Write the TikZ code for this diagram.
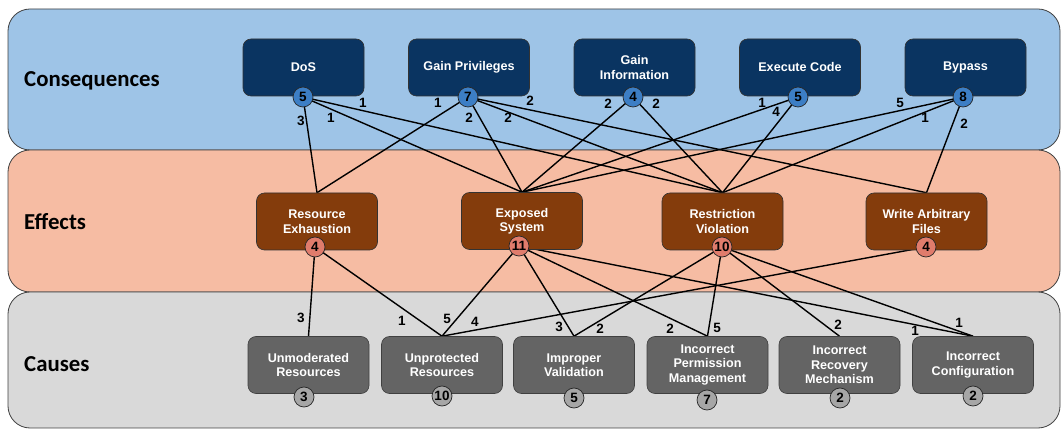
\documentclass[tikz,border=0pt]{standalone}
\usepackage{fontspec}
\setmainfont{Liberation Sans}
\newfontfamily\bandfont{Carlito}

\definecolor{consband}{HTML}{9EC4E7}
\definecolor{effband}{HTML}{F6BCA3}
\definecolor{causeband}{HTML}{D9D9D9}
\definecolor{consfill}{HTML}{0A3461}
\definecolor{efffill}{HTML}{843C0C}
\definecolor{causefill}{HTML}{646464}
\definecolor{consdot}{HTML}{3C7EC5}
\definecolor{effdot}{HTML}{E07C6C}
\definecolor{causedot}{HTML}{A6A6A6}

\pgfdeclarelayer{bands}
\pgfdeclarelayer{links}
\pgfsetlayers{bands,links,main}

\tikzset{
  band/.style={draw=black!75, line width=0.8pt, rounded corners=22pt},
  bandlabel/.style={font=\bandfont\bfseries\fontsize{22.8}{26}\selectfont, anchor=west, inner sep=0pt},
  box/.style={draw=black!80, line width=0.6pt, rounded corners=8pt,
    minimum width=121pt, minimum height=57pt, align=center, text=white,
    font=\bfseries\fontsize{12.6}{14.5}\selectfont, inner sep=2pt},
  consbox/.style={box, fill=consfill},
  effbox/.style={box, fill=efffill},
  causebox/.style={box, fill=causefill, draw=black!75},
  badge/.style={circle, draw=black!85, line width=0.7pt, minimum size=20pt,
    inner sep=0pt, font=\bfseries\fontsize{13.5}{13.5}\selectfont},
  consbadge/.style={badge, fill=consdot},
  effbadge/.style={badge, fill=effdot},
  causebadge/.style={badge, fill=causedot},
  link/.style={line width=1.4pt, black},
  wt/.style={font=\bfseries\fontsize{13.5}{13.5}\selectfont, inner sep=0pt}
}

\begin{document}
\begin{tikzpicture}[x=1pt,y=-1pt]
\useasboundingbox (0,0) rectangle (1061,430);

% layer bands
\begin{pgfonlayer}{bands}
  \draw[band, fill=consband] (8,9) rectangle (1060,150);
  \draw[band, fill=effband] (8,150) rectangle (1060,292);
  \draw[band, fill=causeband] (8,292) rectangle (1060,428);
\end{pgfonlayer}
\node[bandlabel] (lcons) at (24,81) {Consequences};
\node[bandlabel] (leff) at (24,222) {Effects};
\node[bandlabel] (lcause) at (24,364) {Causes};

% consequences
\node[consbox] (dos) at (303.5,67.5) {DoS};
\node[consbox] (gp)  at (469,67.5) {Gain Privileges};
\node[consbox] (gi)  at (634.5,67.5) {Gain\\Information};
\node[consbox] (ec)  at (800,67.5) {Execute Code};
\node[consbox] (by)  at (965.5,67.5) {Bypass};

% effects
\node[effbox] (re)  at (317,221.5) {Resource\\Exhaustion};
\node[effbox] (es)  at (522,221) {Exposed\\System};
\node[effbox] (rv)  at (722.5,221.5) {Restriction\\Violation};
\node[effbox] (waf) at (926.5,221.5) {Write Arbitrary\\Files};

% causes
\node[causebox] (ur)  at (308.5,365) {Unmoderated\\Resources};
\node[causebox] (upr) at (442,365) {Unprotected\\Resources};
\node[causebox] (iv)  at (574,365) {Improper\\Validation};
\node[causebox] (ipm) at (707.5,365) {Incorrect\\Permission\\Management};
\node[causebox] (irm) at (839.5,365) {Incorrect\\Recovery\\Mechanism};
\node[causebox] (ic)  at (973,365) {Incorrect\\Configuration};

% count badges
\node[consbadge] (bdos) at (303,97) {5};
\node[consbadge] (bgp)  at (468,97) {7};
\node[consbadge] (bgi)  at (633,97) {4};
\node[consbadge] (bec)  at (798,97) {5};
\node[consbadge] (bby)  at (963,97) {8};

\node[effbadge] (bre)  at (315,247) {4};
\node[effbadge] (bes)  at (519,246) {11};
\node[effbadge] (brv)  at (722,247) {10};
\node[effbadge] (bwaf) at (926,247) {4};

\node[causebadge] (bur)  at (304,397) {3};
\node[causebadge] (bupr) at (442,396) {10};
\node[causebadge] (biv)  at (574,398) {5};
\node[causebadge] (bipm) at (707,400) {7};
\node[causebadge] (birm) at (840,398) {2};
\node[causebadge] (bic)  at (973,396) {2};

% links
\begin{pgfonlayer}{links}
  \draw[link] (bdos.center) -- (re.north);
  \draw[link] (bdos.center) -- (es.north);
  \draw[link] (bdos.center) -- (rv.north);
  \draw[link] (bgp.center) -- (re.north);
  \draw[link] (bgp.center) -- (es.north);
  \draw[link] (bgp.center) -- (rv.north);
  \draw[link] (bgp.center) -- (waf.north);
  \draw[link] (bgi.center) -- (es.north);
  \draw[link] (bgi.center) -- (rv.north);
  \draw[link] (bec.center) -- (es.north);
  \draw[link] (bec.center) -- (rv.north);
  \draw[link] (bby.center) -- (es.north);
  \draw[link] (bby.center) -- (rv.north);
  \draw[link] (bby.center) -- (waf.north);

  \draw[link] (bre.center) -- (ur.north);
  \draw[link] (bre.center) -- (upr.north);
  \draw[link] (bes.center) -- (upr.north);
  \draw[link] (bes.center) -- (iv.north);
  \draw[link] (bes.center) -- (ipm.north);
  \draw[link] (bes.center) -- (ic.north);
  \draw[link] (brv.center) -- (iv.north);
  \draw[link] (brv.center) -- (ipm.north);
  \draw[link] (brv.center) -- (irm.north);
  \draw[link] (brv.center) -- (ic.north);
  \draw[link] (bwaf.center) -- (upr.north);
\end{pgfonlayer}

% link weights, upper tier
\node[wt] (w1)  at (301,121) {3};
\node[wt] (w2)  at (331,118) {1};
\node[wt] (w3)  at (363,103) {1};
\node[wt] (w4)  at (438,103) {1};
\node[wt] (w5)  at (469,118) {2};
\node[wt] (w6)  at (508,118) {2};
\node[wt] (w7)  at (530,101) {2};
\node[wt] (w8)  at (608,104) {2};
\node[wt] (w9)  at (656,104) {2};
\node[wt] (w10) at (762,103) {1};
\node[wt] (w11) at (776,112) {4};
\node[wt] (w12) at (900,103) {5};
\node[wt] (w13) at (925,118) {1};
\node[wt] (w14) at (964,124) {2};

% link weights, lower tier
\node[wt] (w15) at (301,318) {3};
\node[wt] (w16) at (402,321) {1};
\node[wt] (w17) at (447,319) {5};
\node[wt] (w18) at (475,322) {4};
\node[wt] (w19) at (559,327) {3};
\node[wt] (w20) at (600,329) {2};
\node[wt] (w21) at (670,329) {2};
\node[wt] (w22) at (717,328) {5};
\node[wt] (w23) at (838,325) {2};
\node[wt] (w24) at (915,331) {1};
\node[wt] (w25) at (959,323) {1};
\end{tikzpicture}
\end{document}
